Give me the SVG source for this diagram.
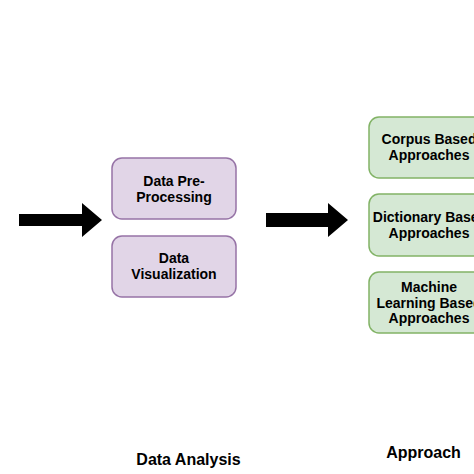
<svg xmlns="http://www.w3.org/2000/svg" width="474" height="474" viewBox="0 0 474 474">
<style>
.p{fill:#e1d5e7;stroke:#9673a6;stroke-width:1.5}
.g{fill:#d5e8d4;stroke:#82b366;stroke-width:1.5}
text{font-family:"Liberation Sans",Arial,sans-serif;font-weight:bold;font-size:14px;fill:#000;text-anchor:middle}
.lbl{font-size:16px}
</style>
<rect width="474" height="474" fill="#fff"/>
<g id="connectors">
<polygon points="19,214 82,214 82,203 102,220 82,237 82,226 19,226" fill="#000"/>
<polygon points="266,213 328,213 328,203 348,220 328,237 328,227 266,227" fill="#000"/>
</g>
<g id="preprocessing">
<rect class="p" x="112" y="158" width="124" height="61" rx="10"/>
<text x="174" y="186">Data Pre-</text>
<text x="174" y="202">Processing</text>
</g>
<g id="visualization">
<rect class="p" x="112" y="236" width="124" height="61" rx="10"/>
<text x="174" y="263">Data</text>
<text x="174" y="279">Visualization</text>
</g>
<g id="corpus">
<rect class="g" x="369" y="117" width="122" height="61" rx="10"/>
<text x="429" y="144">Corpus Based</text>
<text x="429" y="160">Approaches</text>
</g>
<g id="dictionary">
<rect class="g" x="369" y="194" width="122" height="62" rx="10"/>
<text x="430" y="222">Dictionary Based</text>
<text x="429" y="238">Approaches</text>
</g>
<g id="ml">
<rect class="g" x="369" y="272" width="122" height="61" rx="10"/>
<text x="429" y="292">Machine</text>
<text x="429" y="308">Learning Based</text>
<text x="429" y="323">Approaches</text>
</g>
<g id="labels">
<text class="lbl" x="188.5" y="465">Data Analysis</text>
<text class="lbl" x="423.5" y="458">Approach</text>
</g>
</svg>
